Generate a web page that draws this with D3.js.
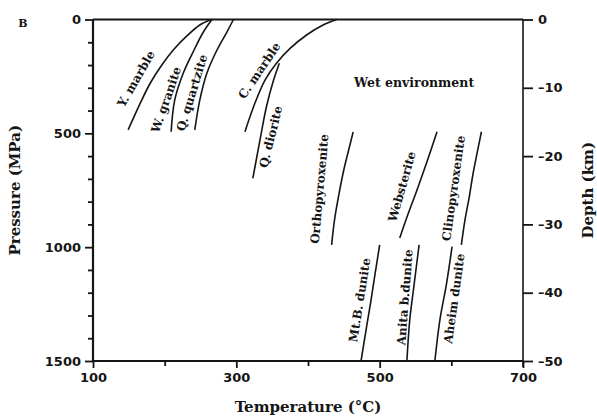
<!DOCTYPE html>
<html><head><meta charset="utf-8">
<script src="https://cdn.jsdelivr.net/npm/d3@7"></script>
<style>
body{margin:0;background:#fff;}
svg{display:block;}
</style></head>
<body>
<svg id="chart" width="597" height="419"></svg>
<script>
// ---- Data: [Temperature (°C), Pressure (MPa)] ----
const yMarble     = [[149,485],[166,367],[180,279],[196,200],[212,134],[231,72],[249,24],[265,0]];
const wGranite    = [[209,493],[214,354],[226,235],[241,134],[254,55],[266,0]];
const qQuartzite  = [[242,485],[249,354],[259,235],[273,134],[287,54],[296,0]];
const cMarble     = [[312,493],[326,367],[340,266],[356,192],[375,127],[398,68],[421,24],[440,0]];
const qDiorite    = [[323,698],[333,529],[342,383],[352,266],[360,192]];
const orthopyrox  = [[433,990],[437,880],[443,770],[450,660],[457,570],[463,494]];
const websterite  = [[528,960],[539,860],[552,750],[566,625],[580,493]];
const clinopyrox  = [[614,990],[619,881],[625,780],[630,683],[636,586],[642,493]];
const mtBDunite   = [[474,1500],[481,1364],[488,1232],[494,1109],[500,990]];
const anitaDunite = [[538,1500],[542,1319],[548,1166],[555,990]];
const aheimDunite = [[577,1500],[584,1320],[593,1166],[601,998]];

const curveNames  = ["Y. marble","W. granite","Q. quartzite","C. marble","Q. diorite","Orthopyroxenite","Websterite","Clinopyroxenite","Mt.B. dunite","Anita b.dunite","Aheim dunite"];
const curveData   = [yMarble,wGranite,qQuartzite,cMarble,qDiorite,orthopyrox,websterite,clinopyrox,mtBDunite,anitaDunite,aheimDunite];
// label anchor in data units [T, P] and text angle (deg)
const labelAt     = [[160,260],[202,352],[238,322],[332,224],[348,515],[416,744],[531,734],[603,741],[472,1232],[535,1220],[604,1225]];
const labelAngle  = [-60,-71,-73,-56,-76,-85,-74,-82,-81,-85.5,-82];

const tempTicks     = [100,200,300,400,500,600,700];
const tempLabels    = [100,300,500,700];
const pressTicks    = [0,100,200,300,400,500,600,700,800,900,1000,1100,1200,1300,1400,1500];
const pressLabels   = [0,500,1000,1500];
const depthTicks    = [0,-10,-20,-30,-40,-50];

// ---- Layout ----
const L = 93, R = 523, T = 19.5, B = 361;
const svg = d3.select("#chart");
const x = d3.scaleLinear().domain([100,700]).range([L,R]);
const y = d3.scaleLinear().domain([0,1500]).range([T,B]);
const yd = d3.scaleLinear().domain([0,-50]).range([T,B]);

const ink = "#151515";
const tickFont = "DejaVu Sans, sans-serif";
const serif = "DejaVu Serif, serif";

// frame
const frame = svg.append("g").attr("stroke",ink).attr("fill","none");
frame.append("line").attr("x1",L).attr("x2",L).attr("y1",T).attr("y2",B).attr("stroke-width",2.2);
frame.append("line").attr("x1",L).attr("x2",R).attr("y1",B).attr("y2",B).attr("stroke-width",2.2);
frame.append("line").attr("x1",L).attr("x2",R).attr("y1",T).attr("y2",T).attr("stroke-width",2.2);
frame.append("line").attr("x1",R).attr("x2",R).attr("y1",T).attr("y2",B).attr("stroke-width",1.6);

function styleAxis(g){
  g.select(".domain").remove();
  g.selectAll(".tick line").attr("stroke",ink).attr("stroke-width",1.8);
  g.selectAll("text").attr("fill",ink).attr("font-family",tickFont).attr("font-weight","bold").attr("font-size",13);
}

// bottom axis
svg.append("g").attr("transform",`translate(0,${B})`)
  .call(d3.axisBottom(x).tickValues(tempTicks.filter(t=>!tempLabels.includes(t))).tickSize(5).tickFormat(""))
  .call(styleAxis);
svg.append("g").attr("transform",`translate(0,${B})`)
  .call(d3.axisBottom(x).tickValues(tempLabels).tickSize(7).tickPadding(5).tickFormat(d3.format("d")))
  .call(styleAxis);

// left axis
svg.append("g").attr("transform",`translate(${L},0)`)
  .call(d3.axisLeft(y).tickValues(pressTicks.filter(t=>!pressLabels.includes(t))).tickSize(5).tickFormat(""))
  .call(styleAxis);
svg.append("g").attr("transform",`translate(${L},0)`)
  .call(d3.axisLeft(y).tickValues(pressLabels).tickSize(8).tickPadding(4).tickFormat(d3.format("d")))
  .call(styleAxis);

// right axis
svg.append("g").attr("transform",`translate(${R},0)`)
  .call(d3.axisRight(yd).tickValues(depthTicks).tickSize(10).tickPadding(5).tickFormat(d=> d===0 ? "0" : "\u2013"+Math.abs(d)))
  .call(styleAxis);
svg.append("line").attr("x1",R).attr("x2",R).attr("y1",B).attr("y2",B+6).attr("stroke",ink).attr("stroke-width",1.6);

// curves
const line = d3.line().x(d=>x(d[0])).y(d=>y(d[1])).curve(d3.curveCatmullRom.alpha(0.5));
svg.append("g").selectAll("path").data(curveData).join("path")
  .attr("d",line).attr("fill","none").attr("stroke",ink).attr("stroke-width",1.6);

// curve labels
svg.append("g").selectAll("text").data(curveNames).join("text")
  .attr("transform",(d,i)=>`translate(${x(labelAt[i][0])},${y(labelAt[i][1])}) rotate(${labelAngle[i]})`)
  .attr("text-anchor","middle").attr("dy","0.35em")
  .attr("font-family",serif).attr("font-weight","bold").attr("font-size",12)
  .attr("fill",ink).text(d=>d);

// annotation
svg.append("text").attr("x",x(548)).attr("y",y(279)).attr("dy","0.35em").attr("text-anchor","middle")
  .attr("font-family",serif).attr("font-weight","bold").attr("font-size",12.5).attr("fill",ink)
  .text("Wet environment");

// panel letter
svg.append("text").attr("x",23).attr("y",27).attr("text-anchor","middle")
  .attr("font-family",serif).attr("font-weight","bold").attr("font-size",11).attr("fill",ink).text("B");

// axis titles
svg.append("text").attr("x",(L+R)/2).attr("y",412).attr("text-anchor","middle")
  .attr("font-family",serif).attr("font-weight","bold").attr("font-size",15).attr("fill",ink)
  .text("Temperature (°C)");
svg.append("text").attr("transform",`translate(20,${(T+B)/2}) rotate(-90)`).attr("text-anchor","middle")
  .attr("font-family",serif).attr("font-weight","bold").attr("font-size",15).attr("fill",ink)
  .text("Pressure (MPa)");
svg.append("text").attr("transform",`translate(593,${(T+B)/2}) rotate(-90)`).attr("text-anchor","middle")
  .attr("font-family",serif).attr("font-weight","bold").attr("font-size",15).attr("fill",ink)
  .text("Depth (km)");
</script>
</body></html>
